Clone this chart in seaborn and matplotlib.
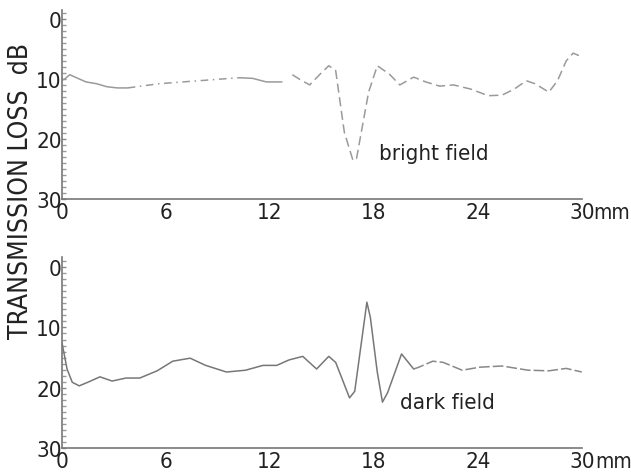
import numpy as np
import pandas as pd
import seaborn as sns
import matplotlib
matplotlib.use("Agg")
import matplotlib.pyplot as plt
from matplotlib.ticker import MultipleLocator

# ---- data ----
bright_x = [0.0, 0.17, 0.46, 1.0, 1.4, 2.0, 2.6, 3.2, 3.8, 5.6, 7.9, 10.2, 11.0, 11.8, 12.7,
            13.3, 13.8, 14.3, 14.9, 15.4, 15.8, 16.3, 16.8, 17.0, 17.7, 18.2, 18.9, 19.5,
            20.3, 21.0, 21.8, 22.6, 23.6, 24.6, 25.4, 26.1, 26.8, 27.3, 28.1,
            28.6, 29.1, 29.5, 30.0]
bright_y = [10.2, 10.0, 9.3, 10.0, 10.5, 10.8, 11.3, 11.5, 11.5, 10.8, 10.3, 9.8, 9.9, 10.5, 10.5,
            9.3, 10.2, 11.0, 9.2, 7.8, 8.6, 18.9, 23.6, 23.3, 12.2, 7.8, 9.2, 11.0,
            9.7, 10.5, 11.2, 11.0, 11.7, 12.8, 12.7, 11.7, 10.3, 10.8, 12.2,
            10.3, 7.0, 5.7, 6.3]

dark_x = [0.0, 0.3, 0.6, 1.0, 1.5, 2.2, 2.9, 3.7, 4.5, 5.5, 6.4, 7.4, 8.3,
          9.5, 10.6, 11.6, 12.4, 13.1, 13.9, 14.7, 15.4, 15.8, 16.6, 16.9,
          17.6, 17.8, 18.2, 18.5, 18.8, 19.6, 20.3, 20.6, 21.4, 22.0, 23.1,
          24.1, 25.4, 26.9, 28.1, 29.1, 30.0]
dark_y = [12.4, 16.9, 19.1, 19.7, 19.1, 18.2, 18.9, 18.4, 18.4, 17.2, 15.6,
          15.1, 16.3, 17.4, 17.1, 16.3, 16.3, 15.4, 14.8, 16.9, 14.8, 15.8,
          21.7, 20.6, 5.8, 8.3, 17.4, 22.4, 20.8, 14.4, 16.9, 16.6, 15.6,
          15.8, 17.1, 16.6, 16.4, 17.1, 17.2, 16.8, 17.4]

x_ticks = [0, 6, 12, 18, 24, 30]
y_ticks = [0, 10, 20, 30]
panel_labels = ["bright field", "dark field"]
unit_labels = ["mm", "mm"]
y_label = "TRANSMISSION LOSS  dB"

# ---- style ----
sns.set_style("white")
plt.rcParams["font.family"] = ["DejaVu Sans"]
plt.rcParams["font.stretch"] = "condensed"
TXT = "#222222"

fig = plt.figure(figsize=(6.31, 4.77), dpi=100)
ax_top = fig.add_axes([0.098, 0.581, 0.824, 0.396])
ax_bot = fig.add_axes([0.098, 0.059, 0.824, 0.400])

bright = pd.DataFrame({"x": bright_x, "y": bright_y})
dark = pd.DataFrame({"x": dark_x, "y": dark_y})

# bright field: draw in segments with differing dash styles
seg_bounds = [(0, 9), (8, 12), (11, 15), (15, 43)]
seg_styles = ["-", (0, (5, 3, 1, 3)), "-", (0, (6, 3))]
for (a, b), ls in zip(seg_bounds, seg_styles):
    seg = bright.iloc[a:b]
    sns.lineplot(data=seg, x="x", y="y", ax=ax_top, color="#9a9a9a",
                 linewidth=1.1, linestyle=ls, sort=False, estimator=None)

# dark field: solid up to ~20.5 mm, dashed after
sns.lineplot(data=dark.iloc[:31], x="x", y="y", ax=ax_bot, color="#777777",
             linewidth=1.1, sort=False, estimator=None)
sns.lineplot(data=dark.iloc[30:], x="x", y="y", ax=ax_bot, color="#888888",
             linewidth=1.1, linestyle=(0, (7, 2)), sort=False, estimator=None)

ylims = [(30, -1.5), (30, -1.7)]
label_pos = [(18.3, 22.3), (19.5, 22.3)]
unit_off = [8, 10]
for ax, lbl, yl, (tx, ty), unit, uo in zip([ax_top, ax_bot], panel_labels, ylims,
                                           label_pos, unit_labels, unit_off):
    ax.set_xlim(0, 30)
    ax.set_ylim(*yl)
    ax.set_xlabel("")
    ax.set_ylabel("")
    ax.set_xticks(x_ticks)
    ax.set_xticklabels([str(t) for t in x_ticks])
    ax.set_yticks(y_ticks)
    ax.set_yticklabels([str(t) for t in y_ticks])
    ax.yaxis.set_minor_locator(MultipleLocator(1))
    ax.tick_params(axis="x", which="major", labelsize=16, length=0,
                   pad=2, colors=TXT, bottom=True)
    ax.tick_params(axis="y", which="major", labelsize=16, length=3,
                   pad=0, labelcolor=TXT, color="#888888", direction="in",
                   left=True, width=1)
    ax.tick_params(axis="y", which="minor", length=3, direction="in",
                   color="#999999", left=True, width=1)
    for s in ["top", "right"]:
        ax.spines[s].set_visible(False)
    for s in ["left", "bottom"]:
        ax.spines[s].set_color("#777777")
        ax.spines[s].set_linewidth(1.2)
    ax.set_facecolor("white")
    ax.text(tx, ty, lbl, fontsize=16, color=TXT, va="center", ha="left")
    ax.annotate(unit, xy=(1, 0), xycoords="axes fraction",
                xytext=(uo, -2.5), textcoords="offset points",
                fontsize=15, color=TXT, va="top", ha="left",
                annotation_clip=False)

fig.text(0.033, 0.60, y_label, rotation=90, fontsize=19, color=TXT,
         va="center", ha="center")

fig.savefig("out.png", dpi=100, facecolor="white")
